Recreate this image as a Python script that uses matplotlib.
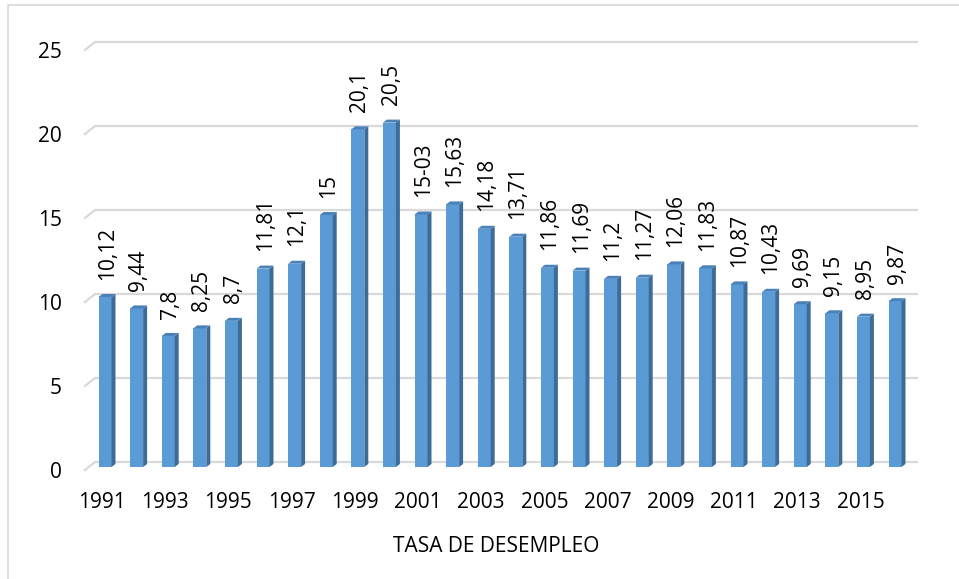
import numpy as np
import matplotlib.pyplot as plt
from matplotlib.patches import Polygon
from matplotlib.lines import Line2D
import matplotlib.transforms as mtransforms

years = list(range(1991, 2017))
tasa = [10.12, 9.44, 7.8, 8.25, 8.7, 11.81, 12.1, 15, 20.1, 20.5,
        15.03, 15.63, 14.18, 13.71, 11.86, 11.69, 11.2, 11.27, 12.06, 11.83,
        10.87, 10.43, 9.69, 9.15, 8.95, 9.87]
etiquetas = ['10,12', '9,44', '7,8', '8,25', '8,7', '11,81', '12,1', '15',
             '20,1', '20,5', '15-03', '15,63', '14,18', '13,71', '11,86',
             '11,69', '11,2', '11,27', '12,06', '11,83', '10,87', '10,43',
             '9,69', '9,15', '8,95', '9,87']
yticks = [0, 5, 10, 15, 20, 25]

plt.rcParams['font.family'] = ['Open Sans', 'DejaVu Sans']
fs = 15

W, H = 959, 579
fig = plt.figure(figsize=(W / 100, H / 100), dpi=100)

# pixel geometry (Excel 3D look)
px_x = 31.6          # pixels per category
px_y = 16.8          # pixels per unit
ax_l, ax_r, ax_b = 80, 925, 467
xmin = -(105 - ax_l) / px_x
xmax = xmin + (ax_r - ax_l) / px_x
ymax = 25.6
ax = fig.add_axes([ax_l / W, (H - ax_b) / H, (ax_r - ax_l) / W, ymax * px_y / H])
ax.set_xlim(xmin, xmax)
ax.set_ylim(0, ymax)
for s in ax.spines.values():
    s.set_visible(False)
ax.patch.set_visible(False)

# back wall gridlines
gx0 = xmin + (95 - ax_l) / px_x
gx1 = xmin + (917 - ax_l) / px_x
gxf = xmin + (85 - ax_l) / px_x
for v in yticks:
    ax.add_line(Line2D([gxf, gx0, gx1], [v - 3 / px_y, v + 5 / px_y, v + 5 / px_y],
                       color='#d9d9d9', lw=1.6, zorder=1, clip_on=False))

# bars with side and top faces
x = np.arange(len(tasa))
w = 13 / px_x
dx = 4 / px_x
dy = 3 / px_y
ax.bar(x, tasa, width=w, color='#5b9bd5', zorder=3)
for xi, v in zip(x, tasa):
    r = xi + w / 2
    l = xi - w / 2
    ax.add_patch(Polygon([(r, 0), (r + dx, dy), (r + dx, v + dy), (r, v)],
                         closed=True, fc='#3e6c98', ec='none', zorder=3))
    ax.add_patch(Polygon([(l, v), (r, v), (r + dx, v + dy), (l + dx, v + dy)],
                         closed=True, fc='#4a81b8', ec='none', zorder=3))

for xi, v, t in zip(x, tasa, etiquetas):
    ax.annotate(t, (xi, v), xytext=(1.5, 12.5), textcoords='offset points',
                rotation=90, ha='center', va='bottom', fontsize=fs, color='black')

ax.set_yticks(yticks)
ax.set_yticklabels([str(v) for v in yticks], fontsize=fs)
ax.set_xticks(x[::2])
ax.set_xticklabels([str(y) for y in years[::2]], fontsize=fs)
ax.tick_params(axis='y', length=0, pad=13)
ax.tick_params(axis='x', length=0, pad=18)
off_y = mtransforms.ScaledTranslation(0, -3 / 100, fig.dpi_scale_trans)
for lab in ax.get_yticklabels():
    lab.set_transform(lab.get_transform() + off_y)
off_x = mtransforms.ScaledTranslation(-3 / 100, 0, fig.dpi_scale_trans)
for lab in ax.get_xticklabels():
    lab.set_transform(lab.get_transform() + off_x)

fig.text(496 / W, 1 - 547 / H, 'TASA DE DESEMPLEO', ha='center', va='center', fontsize=fs)

# chart border (top and left)
fig.add_artist(Line2D([8 / W, 8 / W, 1], [0, 1 - 5 / H, 1 - 5 / H],
                      transform=fig.transFigure, color='#d9d9d9', lw=1.2))

fig.savefig('out.png', dpi=100)
